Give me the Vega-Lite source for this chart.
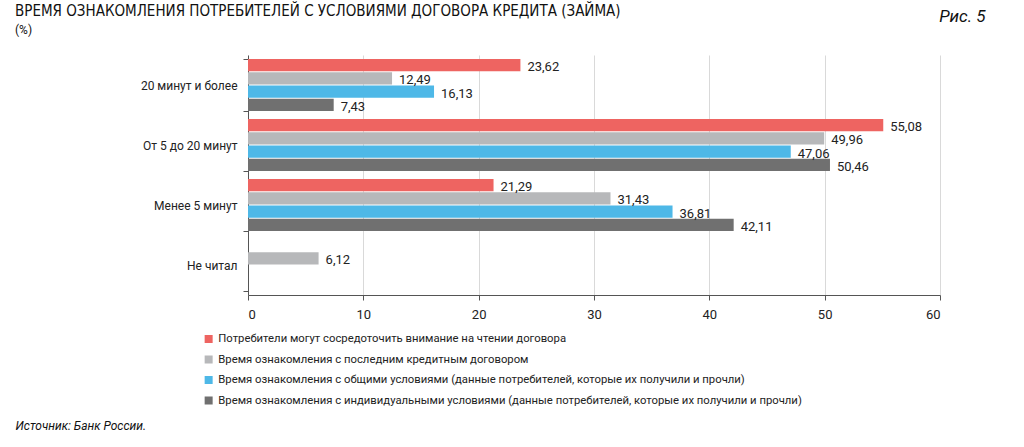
{
  "$schema": "https://vega.github.io/schema/vega-lite/v6.json",
  "width": 692,
  "height": 240,
  "autosize": {"type": "none"},
  "padding": {"left": 248, "top": 55, "right": 84, "bottom": 152},
  "background": "white",
  "config": {
    "view": {"stroke": null},
    "font": "Roboto",
    "locale": {"number": {"decimal": ",", "thousands": " ", "grouping": [3], "currency": ["", ""]}}
  },
  "title": {
    "text": "ВРЕМЯ ОЗНАКОМЛЕНИЯ ПОТРЕБИТЕЛЕЙ С УСЛОВИЯМИ ДОГОВОРА КРЕДИТА (ЗАЙМА)",
    "subtitle": "(%)",
    "anchor": "start",
    "frame": "group",
    "dx": -233,
    "dy": 33,
    "font": "DejaVu Sans Condensed",
    "fontSize": 15,
    "fontWeight": "normal",
    "color": "#111111",
    "subtitleFont": "Roboto",
    "subtitleFontSize": 12,
    "subtitleColor": "#111111",
    "subtitlePadding": 6
  },
  "data": {
    "values": [
      {"cat": "20 минут и более", "series": "Потребители могут сосредоточить внимание на чтении договора", "value": 23.62},
      {"cat": "20 минут и более", "series": "Время ознакомления с последним кредитным договором", "value": 12.49},
      {"cat": "20 минут и более", "series": "Время ознакомления с общими условиями (данные потребителей, которые их получили и прочли)", "value": 16.13},
      {"cat": "20 минут и более", "series": "Время ознакомления с индивидуальными условиями (данные потребителей, которые их получили и прочли)", "value": 7.43},
      {"cat": "От 5 до 20 минут", "series": "Потребители могут сосредоточить внимание на чтении договора", "value": 55.08},
      {"cat": "От 5 до 20 минут", "series": "Время ознакомления с последним кредитным договором", "value": 49.96},
      {"cat": "От 5 до 20 минут", "series": "Время ознакомления с общими условиями (данные потребителей, которые их получили и прочли)", "value": 47.06},
      {"cat": "От 5 до 20 минут", "series": "Время ознакомления с индивидуальными условиями (данные потребителей, которые их получили и прочли)", "value": 50.46},
      {"cat": "Менее 5 минут", "series": "Потребители могут сосредоточить внимание на чтении договора", "value": 21.29},
      {"cat": "Менее 5 минут", "series": "Время ознакомления с последним кредитным договором", "value": 31.43},
      {"cat": "Менее 5 минут", "series": "Время ознакомления с общими условиями (данные потребителей, которые их получили и прочли)", "value": 36.81},
      {"cat": "Менее 5 минут", "series": "Время ознакомления с индивидуальными условиями (данные потребителей, которые их получили и прочли)", "value": 42.11},
      {"cat": "Не читал", "series": "Время ознакомления с последним кредитным договором", "value": 6.12}
    ]
  },
  "encoding": {
    "y": {
      "field": "cat",
      "type": "nominal",
      "sort": ["20 минут и более", "От 5 до 20 минут", "Менее 5 минут", "Не читал"],
      "scale": {"paddingInner": 0.13, "paddingOuter": 0.065},
      "axis": {
        "title": "Рис. 5",
        "titleAngle": 0,
        "titleX": 737,
        "titleY": -34,
        "titleAlign": "right",
        "titleBaseline": "alphabetic",
        "titleFont": "Roboto",
        "titleFontStyle": "italic",
        "titleFontWeight": "normal",
        "titleFontSize": 17,
        "titleColor": "#111111",
        "tickBand": "extent",
        "tickSize": 5,
        "tickColor": "#555555",
        "domainColor": "#555555",
        "labelFontSize": 12,
        "labelColor": "#222222",
        "labelPadding": 6,
        "labelLimit": 300,
        "grid": false
      }
    },
    "yOffset": {
      "field": "series",
      "type": "nominal",
      "sort": [
        "Потребители могут сосредоточить внимание на чтении договора",
        "Время ознакомления с последним кредитным договором",
        "Время ознакомления с общими условиями (данные потребителей, которые их получили и прочли)",
        "Время ознакомления с индивидуальными условиями (данные потребителей, которые их получили и прочли)"
      ],
      "scale": {"paddingInner": 0.08, "paddingOuter": 0}
    },
    "x": {
      "field": "value",
      "type": "quantitative",
      "scale": {"domain": [0, 60], "nice": false},
      "axis": {
        "values": [0, 10, 20, 30, 40, 50, 60],
        "format": "d",
        "grid": true,
        "gridColor": "#d9d9d9",
        "domainColor": "#555555",
        "tickColor": "#555555",
        "tickSize": 5,
        "labelFontSize": 13,
        "labelColor": "#222222",
        "labelPadding": 8,
        "title": "Источник: Банк России.",
        "titleX": -233,
        "titleY": 134,
        "titleAlign": "left",
        "titleAnchor": null,
        "titleBaseline": "alphabetic",
        "titleFont": "Roboto",
        "titleFontStyle": "italic",
        "titleFontWeight": "normal",
        "titleFontSize": 12,
        "titleColor": "#111111"
      }
    }
  },
  "layer": [
    {
      "mark": {"type": "bar"},
      "encoding": {
        "color": {
          "field": "series",
          "type": "nominal",
          "scale": {
            "domain": [
              "Потребители могут сосредоточить внимание на чтении договора",
              "Время ознакомления с последним кредитным договором",
              "Время ознакомления с общими условиями (данные потребителей, которые их получили и прочли)",
              "Время ознакомления с индивидуальными условиями (данные потребителей, которые их получили и прочли)"
            ],
            "range": ["#EE6461", "#B7B8BA", "#4EB8E7", "#707070"]
          },
          "legend": {
            "orient": "none",
            "legendX": -45,
            "legendY": 278,
            "title": null,
            "symbolType": "square",
            "symbolSize": 64,
            "symbolStrokeWidth": 0,
            "labelFontSize": 11.3,
            "labelColor": "#222222",
            "labelLimit": 700,
            "rowPadding": 8.5,
            "clipHeight": 12,
            "labelOffset": 4,
            "direction": "vertical",
            "padding": 0
          }
        }
      }
    },
    {
      "mark": {"type": "text", "align": "left", "baseline": "middle", "dx": 7, "dy": 2, "fontSize": 13, "color": "#222222"},
      "encoding": {
        "text": {"field": "value", "type": "quantitative", "format": ".2f"}
      }
    }
  ]
}
